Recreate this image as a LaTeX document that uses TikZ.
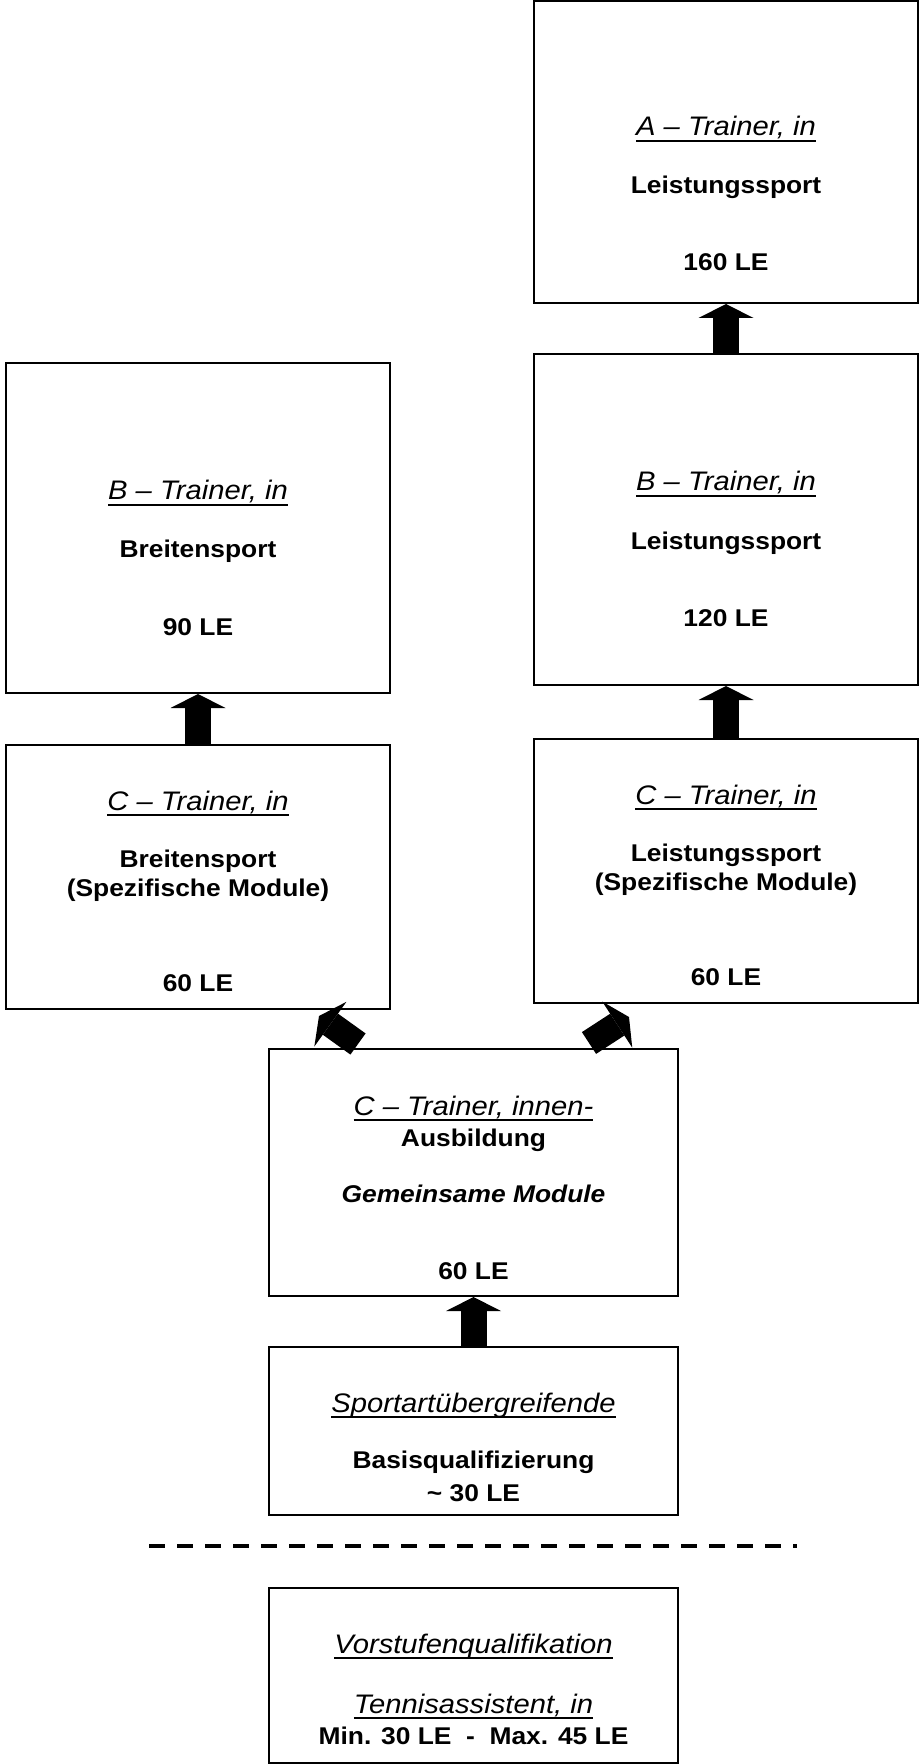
\documentclass[tikz,border=0pt]{standalone}
\usepackage{fontspec}
\setmainfont[FakeStretch=1.09]{Liberation Sans}
\usetikzlibrary{arrows.meta}

\newcommand{\undl}[1]{\setbox0\hbox{#1}\rlap{\rule[-3pt]{\wd0}{1pt}}\box0}

\tikzstyle{level}=[draw, line width=1pt, inner sep=0pt, minimum width=192pt]
\tikzstyle{trainer}=[anchor=base, inner sep=0pt, font=\fontsize{13.4}{16}\selectfont\itshape]
\tikzstyle{info}=[anchor=base, inner sep=0pt, font=\fontsize{12.1}{14.5}\selectfont\bfseries]
\tikzstyle{push}=[line width=13pt, -{Triangle[length=7pt,width=27.5pt,line width=0pt]}]

\begin{document}
\begin{tikzpicture}[x=0.5pt,y=-0.5pt]
            \useasboundingbox (0,0) rectangle (920,1764);
            % boxes
            \node[level, minimum height=151pt] at (726,152) (atop) {};
            \node[level, minimum height=165.5pt] at (726,519.5) (bleist) {};
            \node[level, minimum height=165pt] at (198,528) (bbreit) {};
            \node[level, minimum height=132pt] at (198,877) (cbreit) {};
            \node[level, minimum height=132pt] at (726,871) (cleist) {};
            \node[level, minimum width=204.5pt, minimum height=123.5pt] at (473.5,1172.5) (cgem) {};
            \node[level, minimum width=204.5pt, minimum height=84pt] at (473.5,1431) (sport) {};
            \node[level, minimum width=204.5pt, minimum height=87.5pt] at (473.5,1675.5) (vor) {};
            % texts
            \node[trainer] at (726,136) (atop1) {\undl{A – Trainer, in}};
            \node[info] at (726,194) (atop2) {Leistungssport};
            \node[info] at (726,271) (atop3) {160 LE};
            \node[trainer] at (726,491) (bleist1) {\undl{B – Trainer, in}};
            \node[info] at (726,549) (bleist2) {Leistungssport};
            \node[info] at (726,626) (bleist3) {120 LE};
            \node[trainer] at (198,500) (bbreit1) {\undl{B – Trainer, in}};
            \node[info] at (198,558) (bbreit2) {Breitensport};
            \node[info] at (198,635) (bbreit3) {90 LE};
            \node[trainer] at (198,810) (cbreit1) {\undl{C – Trainer, in}};
            \node[info] at (198,867) (cbreit2) {Breitensport};
            \node[info] at (198,896) (cbreit3) {(Spezifische Module)};
            \node[info] at (198,991) (cbreit4) {60 LE};
            \node[trainer] at (726,804) (cleist1) {\undl{C – Trainer, in}};
            \node[info] at (726,861) (cleist2) {Leistungssport};
            \node[info] at (726,890) (cleist3) {(Spezifische Module)};
            \node[info] at (726,985) (cleist4) {60 LE};
            \node[trainer] at (473.5,1115) (cgem1) {\undl{C – Trainer, innen-}};
            \node[info] at (473.5,1146) (cgem2) {Ausbildung};
            \node[info] at (473.5,1202) (cgem3) {\itshape Gemeinsame Module};
            \node[info] at (473.5,1279) (cgem4) {60 LE};
            \node[trainer] at (473.5,1412) (sport1) {\undl{Sportartübergreifende}};
            \node[info] at (473.5,1468) (sport2) {Basisqualifizierung};
            \node[info] at (473.5,1501) (sport3) {\textasciitilde\ 30 LE};
            \node[trainer] at (473.5,1653) (vor1) {\undl{Vorstufenqualifikation}};
            \node[trainer] at (473.5,1713) (vor2) {\undl{Tennisassistent, in}};
            \node[info] at (473.5,1744) (vor3) {Min. 30 LE\ \ -\ \ Max. 45 LE};
            % arrows
            \draw[push] (bleist.north) -- (atop.south);
            \draw[push] (cleist.north) -- (bleist.south);
            \draw[push] (cbreit.north) -- (bbreit.south);
            \draw[push] ([shift={(-115.5,-4)}]cgem.north) -- ([shift={(-72,6)}]cbreit.south east);
            \draw[push] ([shift={(115.5,-5)}]cgem.north) -- ([shift={(96,13)}]cleist.south west);
            \draw[push] (sport.north) -- (cgem.south);
            % separator
            \coordinate (sepa) at (149.3,1546);
            \coordinate (sepb) at (797,1546);
            \draw[line width=1.75pt, dash pattern=on 7.85pt off 6.15pt] (sepa) -- (sepb);
\end{tikzpicture}
\end{document}
